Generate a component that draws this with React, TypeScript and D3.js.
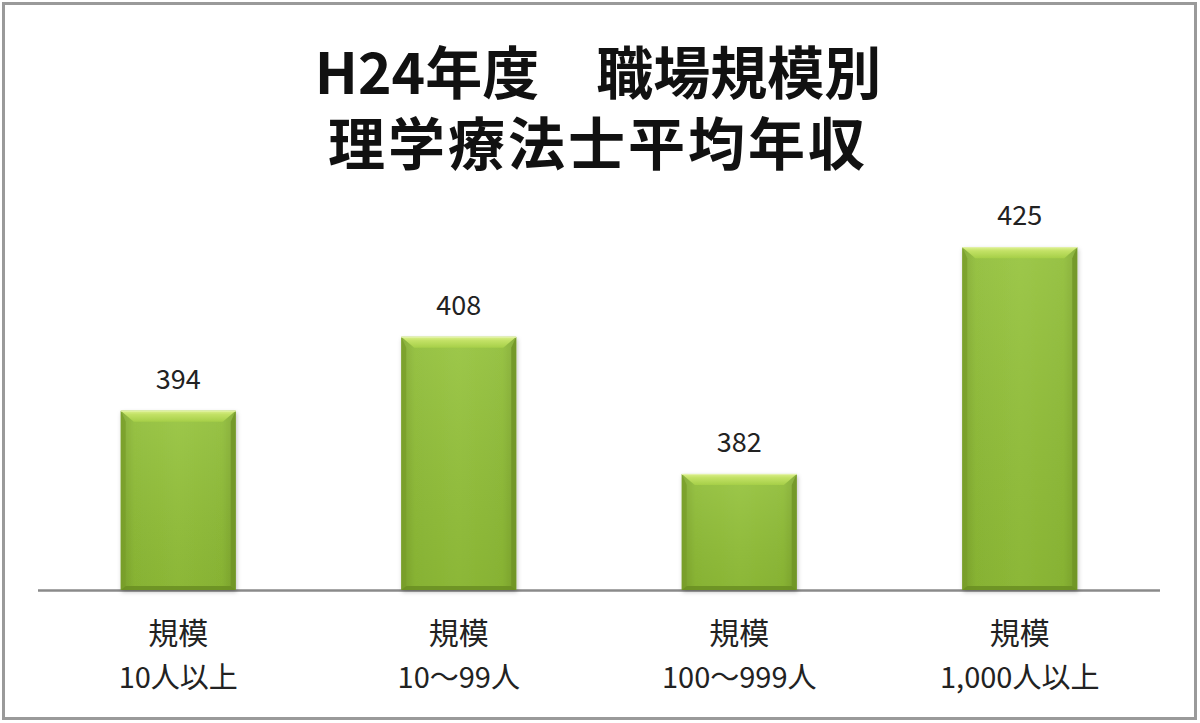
import React from 'react';
import * as d3 from 'd3';

// Chart data
const titleLines = ['H24年度　職場規模別', '理学療法士平均年収'];
const categories = ['10人以上', '10〜99人', '100〜999人', '1,000人以上'];
const categoryPrefix = '規模';
const salaries = [394, 408, 382, 425];

const W = 1200;
const H = 723;
const FONT = '"Noto Sans CJK JP", "Noto Sans", sans-serif';

const App: React.FC = () => {
  const x = d3.scaleBand<string>()
    .domain(categories)
    .range([38, 1160])
    .paddingInner(0.59)
    .paddingOuter(0.295);

  const y = d3.scaleLinear()
    .domain([360, 440])
    .range([590, 168]);

  const bevel = 11;
  const side = 5;

  return (
    <svg width={W} height={H} style={{ display: 'block', position: 'absolute', left: 0, top: 0 }}>
      <defs>
        <linearGradient id="body" x1="0" x2="1" y1="0" y2="0">
          <stop offset="0" stopColor="#7fa82d" />
          <stop offset="0.12" stopColor="#8fbd36" />
          <stop offset="0.5" stopColor="#95c33b" />
          <stop offset="0.88" stopColor="#8fbd36" />
          <stop offset="1" stopColor="#7fa82d" />
        </linearGradient>
        <linearGradient id="bodyV" x1="0" x2="0" y1="0" y2="1">
          <stop offset="0" stopColor="#ffffff" stopOpacity="0.08" />
          <stop offset="1" stopColor="#000000" stopOpacity="0.06" />
        </linearGradient>
        <linearGradient id="topBevel" x1="0" x2="0" y1="0" y2="1">
          <stop offset="0" stopColor="#dcf08e" />
          <stop offset="0.35" stopColor="#c2e165" />
          <stop offset="1" stopColor="#a6cf48" />
        </linearGradient>
        <filter id="shadow" x="-10%" y="-5%" width="125%" height="115%">
          <feDropShadow dx="1" dy="2" stdDeviation="2" floodColor="#000" floodOpacity="0.25" />
        </filter>
      </defs>

      <rect x={3.5} y={3.5} width={W - 8} height={H - 8} fill="#fff" stroke="#9a9a9a" strokeWidth={3} />

      {/* two-line title as one text block */}
      <text fontFamily={FONT} fontWeight="bold" fill="#111" textAnchor="middle" fontSize={57} x={598} y={94}>
        {titleLines.map((t, i) => (
          <tspan key={i} x={598} dy={i === 0 ? 0 : 71} letterSpacing={i === 0 ? 0 : 3}>{t}</tspan>
        ))}
      </text>

      <line x1={38} x2={1160} y1={590.5} y2={590.5} stroke="#8a8a8a" strokeWidth={2.5} />

      {categories.map((c, i) => {
        const x0 = x(c)!;
        const bw = x.bandwidth();
        const y0 = y(salaries[i]);
        const y1 = y(360);
        return (
          <g key={c}>
            <g filter="url(#shadow)">
              <rect x={x0} y={y0} width={bw} height={y1 - y0} fill="url(#body)" />
            </g>
            <rect x={x0} y={y0} width={bw} height={y1 - y0} fill="url(#bodyV)" />
            {/* side bevels */}
            <polygon
              points={`${x0},${y0} ${x0 + side},${y0 + bevel} ${x0 + side},${y1 - 4} ${x0},${y1}`}
              fill="#789e2a"
              opacity={0.75}
            />
            <polygon
              points={`${x0 + bw},${y0} ${x0 + bw - side},${y0 + bevel} ${x0 + bw - side},${y1 - 4} ${x0 + bw},${y1}`}
              fill="#6f9426"
              opacity={0.8}
            />
            {/* bottom bevel */}
            <polygon
              points={`${x0},${y1} ${x0 + side},${y1 - 4} ${x0 + bw - side},${y1 - 4} ${x0 + bw},${y1}`}
              fill="#6a8e22"
              opacity={0.85}
            />
            {/* top bevel */}
            <polygon
              points={`${x0},${y0} ${x0 + bw},${y0} ${x0 + bw - side - 8},${y0 + bevel} ${x0 + side + 8},${y0 + bevel}`}
              fill="url(#topBevel)"
            />
            <line x1={x0} x2={x0 + bw} y1={y0 + 0.5} y2={y0 + 0.5} stroke="#e4f3a8" strokeWidth={1} />
            <text
              x={x0 + bw / 2}
              y={y0 - 22}
              textAnchor="middle"
              fontFamily={FONT}
              fontSize={27}
              fill="#222"
            >
              {salaries[i]}
            </text>
            <text
              x={x0 + bw / 2}
              y={644}
              textAnchor="middle"
              fontFamily={FONT}
              fontSize={30}
              fill="#222"
            >
              {categoryPrefix}
            </text>
            <text
              x={x0 + bw / 2}
              y={688}
              textAnchor="middle"
              fontFamily={FONT}
              fontSize={29}
              fill="#222"
            >
              {c}
            </text>
          </g>
        );
      })}
    </svg>
  );
};

export default App;
